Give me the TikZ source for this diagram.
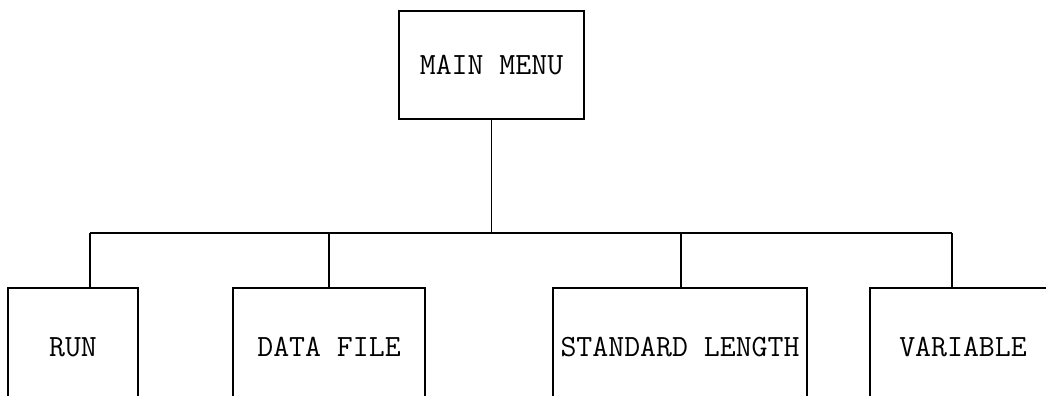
\documentclass[tikz,border=0pt]{standalone}
\usepackage{tikz}
\tikzset{menubox/.style={draw, line width=1pt, inner sep=0pt, font=\ttfamily\fontsize{17.6}{21}\selectfont}}

\begin{document}
\begin{tikzpicture}[line width=1pt]
            \useasboundingbox (0,0) rectangle (20.92,7.9);
            \clip (0,0) rectangle (20.92,7.9);

            % main menu
            \node[menubox, minimum width=3.7cm, minimum height=2.16cm] (main) at (9.83,6.6) {MAIN MENU};

            % options (bottom edges fall off the page)
            \node[menubox, minimum width=2.6cm, minimum height=2.36cm] (run) at (1.46,0.96) {RUN};
            \node[menubox, minimum width=3.84cm, minimum height=2.36cm] (data) at (6.58,0.96) {DATA FILE};
            \node[menubox, minimum width=5.08cm, minimum height=2.36cm] (std) at (13.6,0.96) {STANDARD LENGTH};
            \node[menubox, minimum width=3.72cm, minimum height=2.36cm] (var) at (19.26,0.96) {VARIABLE};

            % bus
            \coordinate (j1) at (1.8,3.24);
            \coordinate (j2) at (6.58,3.24);
            \coordinate (j3) at (13.62,3.24);
            \coordinate (j4) at (19.04,3.24);
            \draw (j1) -- (j4);
            \draw (main.south) -- (main.south |- j1);

            \draw (j1) -- (j1 |- run.north);
            \draw (j2) -- (data.north);
            \draw (j3) -- (j3 |- std.north);
            \draw (j4) -- (j4 |- var.north);
        \end{tikzpicture}
\end{document}
